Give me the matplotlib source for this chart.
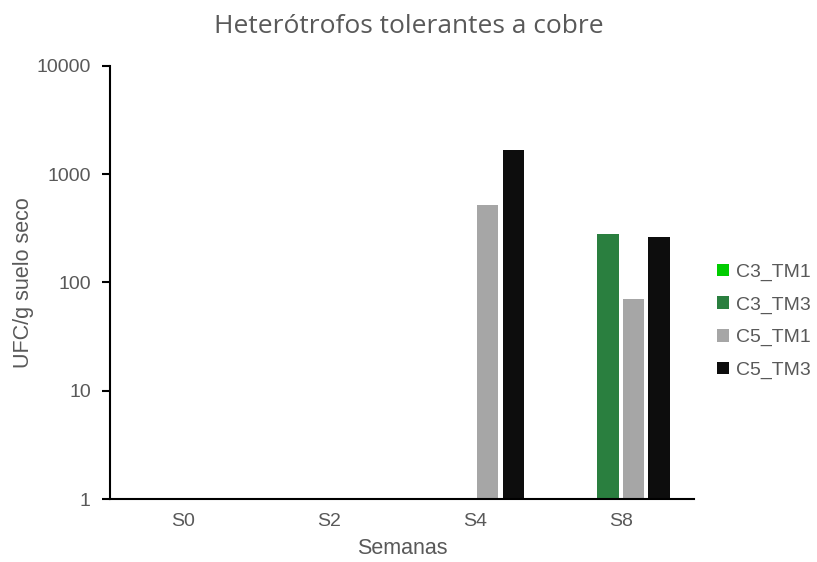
import numpy as np
import matplotlib.pyplot as plt

weeks = ['S0', 'S2', 'S4', 'S8']
series = ['C3_TM1', 'C3_TM3', 'C5_TM1', 'C5_TM3']
c3_tm1 = [np.nan, np.nan, np.nan, np.nan]
c3_tm3 = [np.nan, np.nan, np.nan, 280]
c5_tm1 = [np.nan, np.nan, 520, 70]
c5_tm3 = [np.nan, np.nan, 1660, 265]
colors = ['#00CC00', '#2A7F3F', '#A6A6A6', '#0D0D0D']


def main():
    fig = plt.figure(figsize=(8.17, 5.62), dpi=100)
    ax = fig.add_axes([0.135, 0.112, 0.714, 0.771])

    x = np.arange(len(weeks))
    step = 0.175
    width = 0.145
    for i, (name, vals) in enumerate(zip(series, [c3_tm1, c3_tm3, c5_tm1, c5_tm3])):
        ax.bar(x + (i - 1.5) * step, vals, width, color=colors[i], label=name)

    ax.set_yscale('log')
    ax.set_ylim(1, 10000)
    ax.set_xlim(-0.5, 3.5)
    ax.set_yticks([1, 10, 100, 1000, 10000])
    ax.set_yticklabels(['1', '10', '100', '1000', '10000'])
    ax.minorticks_off()
    ax.set_xticks(x)
    ax.set_xticklabels(weeks)

    for s in ['top', 'right']:
        ax.spines[s].set_visible(False)
    ax.spines['left'].set_linewidth(1.5)
    ax.spines['bottom'].set_linewidth(1.5)
    ax.tick_params(axis='x', length=0, pad=10, labelsize=14, labelcolor='#595959')
    ax.tick_params(axis='y', length=6, width=1.5, direction='out', pad=8,
                   labelsize=14, labelcolor='#595959')
    for lab in ax.get_xticklabels() + ax.get_yticklabels():
        lab.set_family('Liberation Sans')

    ax.set_xlabel('Semanas', family='Liberation Sans', fontsize=15.5,
                  color='#595959', labelpad=6)
    ax.set_ylabel('UFC/g suelo seco', family='Liberation Sans', fontsize=15.5,
                  color='#595959', labelpad=2)
    fig.suptitle('Heterótrofos tolerantes a cobre', family='Open Sans',
                 fontsize=19, color='#595959', y=0.975)

    leg = ax.legend(loc='center left', bbox_to_anchor=(1.01, 0.41), frameon=False,
                    handlelength=0.6, handleheight=0.6, handletextpad=0.4,
                    labelspacing=0.8, prop={'family': 'Liberation Sans', 'size': 14})
    for t in leg.get_texts():
        t.set_color('#595959')

    fig.savefig('out.png', dpi=100)


if __name__ == '__main__':
    main()
